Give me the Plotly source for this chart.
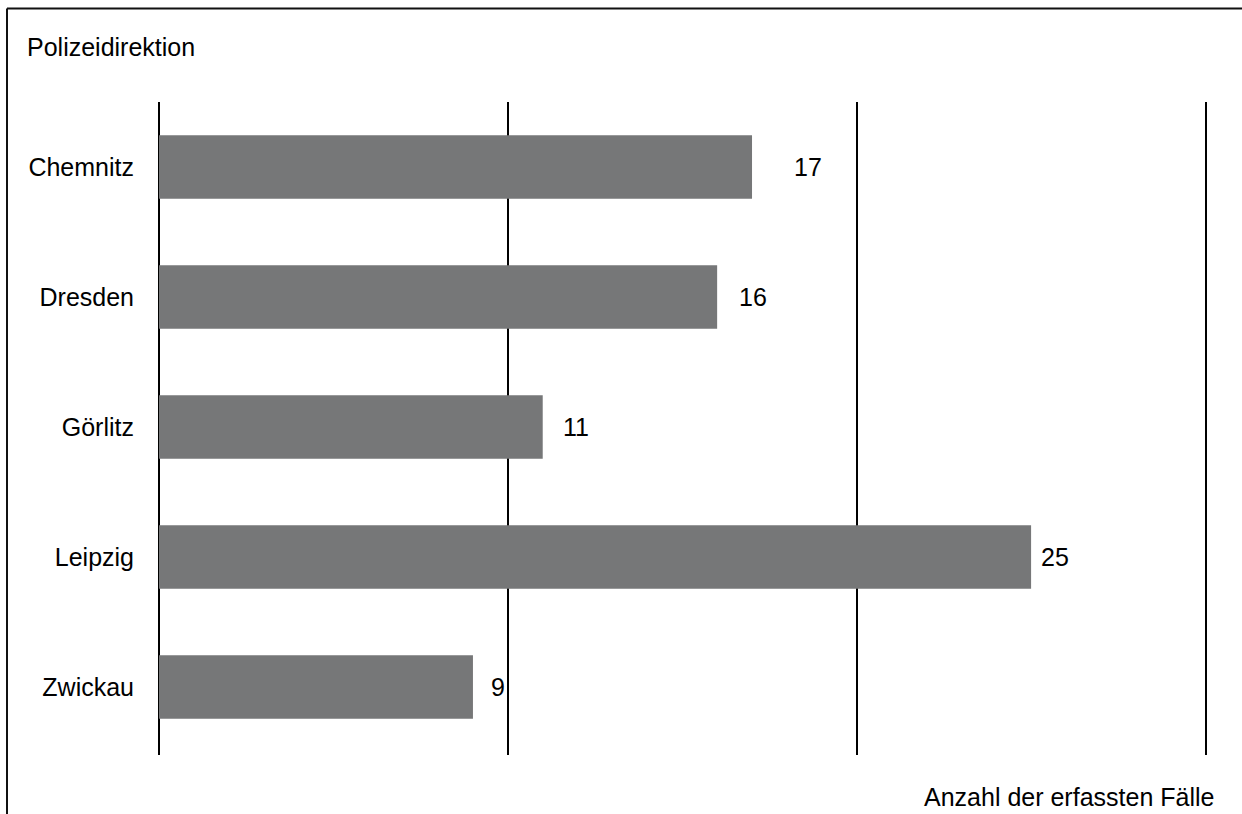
import plotly.graph_objects as go

categories = ["Chemnitz", "Dresden", "Görlitz", "Leipzig", "Zwickau"]
values = [17, 16, 11, 25, 9]
label_shift = [40, 20, 18, 8, 16]  # px gap between bar end and value label

W, H = 1242, 814
ml, mr, mt, mb = 159, 33, 102, 59
pw, ph = W - ml - mr, H - mt - mb

def px_x(p):
    return (p - ml) / pw

def px_y(p):
    return (H - mb - p) / ph

FONT = "Liberation Sans, Arial, Helvetica, sans-serif"
FS = 25

fig = go.Figure(go.Bar(
    x=values, y=categories, orientation="h",
    marker=dict(color="#767778", line=dict(width=0)),
    width=0.49, hoverinfo="skip",
))

for c, v, s in zip(categories, values, label_shift):
    fig.add_annotation(x=v, y=c, text=str(v), showarrow=False,
                       xanchor="left", yanchor="middle", xshift=s, yshift=0,
                       font=dict(family=FONT, size=FS, color="#000"))

fig.add_annotation(xref="paper", yref="paper", x=px_x(25), y=px_y(47),
                   text="Polizeidirektion", showarrow=False,
                   xanchor="left", yanchor="middle",
                   font=dict(family=FONT, size=FS, color="#000"))
fig.add_annotation(xref="paper", yref="paper", x=px_x(1216), y=px_y(797),
                   text="Anzahl der erfassten Fälle", showarrow=False,
                   xanchor="right", yanchor="middle",
                   font=dict(family=FONT, size=FS, color="#000"))

# figure frame (top and left edges)
fig.add_shape(type="line", xref="paper", yref="paper",
              x0=px_x(7), x1=px_x(1250), y0=px_y(8.5), y1=px_y(8.5),
              line=dict(color="#111", width=2))
fig.add_shape(type="line", xref="paper", yref="paper",
              x0=px_x(7), x1=px_x(7), y0=px_y(8.5), y1=px_y(830),
              line=dict(color="#111", width=2))

fig.update_layout(
    width=W, height=H,
    margin=dict(l=ml, r=mr, t=mt, b=mb),
    paper_bgcolor="white", plot_bgcolor="white",
    showlegend=False,
    bargap=0.5,
    font=dict(family=FONT, size=FS, color="#000"),
    xaxis=dict(range=[0, 30.1], dtick=10, tick0=0, showgrid=True,
               gridcolor="#000", gridwidth=2, zeroline=True,
               zerolinecolor="#000", zerolinewidth=2,
               showticklabels=False, ticks="", showline=False, fixedrange=True),
    yaxis=dict(range=[4.523, -0.5], categoryorder="array", categoryarray=categories,
               showgrid=False, zeroline=False, showline=False, ticks="",
               ticklabelstandoff=24,
               tickfont=dict(family=FONT, size=FS, color="#000"), fixedrange=True),
)

fig.write_html("out.html", config={"displayModeBar": False},
               post_script="document.body.style.margin='0';document.body.style.overflow='hidden';")
